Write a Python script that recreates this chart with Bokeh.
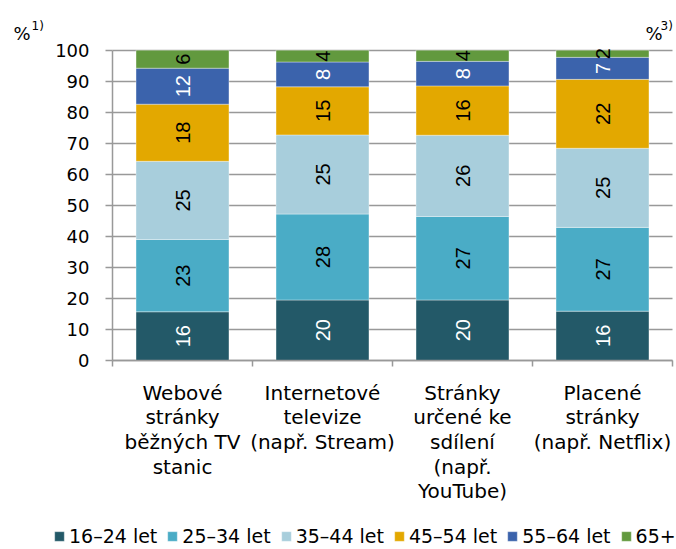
import numpy as np
from bokeh.plotting import figure
from bokeh.models import (ColumnDataSource, Range1d, FixedTicker, LinearAxis, Grid,
                          Legend, LegendItem, Label)
from bokeh.core.properties import value
from bokeh.embed import file_html
from bokeh.resources import INLINE

# ---- data -------------------------------------------------------------
categories = [
    "Webové\nstránky\nběžných TV\nstanic",
    "Internetové\ntelevize\n(např. Stream)",
    "Stránky\nurčené ke\nsdílení\n(např.\nYouTube)",
    "Placené\nstránky\n(např. Netflix)",
]
age_groups = ["16–24 let", "25–34 let", "35–44 let", "45–54 let", "55–64 let", "65+"]

# segment sizes (%)
v_16_24 = [15.7, 19.5, 19.5, 15.9]
v_25_34 = [23.3, 27.7, 26.9, 27.0]
v_35_44 = [25.2, 25.5, 26.2, 25.5]
v_45_54 = [18.4, 15.5, 15.9, 22.2]
v_55_64 = [11.6, 8.0, 7.9, 7.1]
v_65_plus = [5.8, 3.8, 3.6, 2.3]

# printed (rounded) labels
l_16_24 = [16, 20, 20, 16]
l_25_34 = [23, 28, 27, 27]
l_35_44 = [25, 25, 26, 25]
l_45_54 = [18, 15, 16, 22]
l_55_64 = [12, 8, 8, 7]
l_65_plus = [6, 4, 4, 2]

y_ticks = [0, 10, 20, 30, 40, 50, 60, 70, 80, 90, 100]

series_values = [v_16_24, v_25_34, v_35_44, v_45_54, v_55_64, v_65_plus]
series_labels = [l_16_24, l_25_34, l_35_44, l_45_54, l_55_64, l_65_plus]

# ---- styles / layout --------------------------------------------------
colors = ["#235968", "#4aacc6", "#a8cedc", "#e3a800", "#3b63ac", "#62993e"]
label_colors = ["white", "black", "black", "black", "white", "black"]
GRAY = "#999999"
FONT = "DejaVu Sans"
W, H = 676, 549
PX_X = 140.0            # px per category
X0 = 112.0              # px of x = 0
Y0, Y100 = 360.0, 49.7  # px of y = 0 and y = 100
PX_Y = (Y0 - Y100) / 100.0

n = len(categories)
xs = np.arange(n) + 0.5
bounds = list(np.arange(n + 1).astype(float))

# the frame covers the whole canvas so that nothing is clipped
x_range = Range1d(-X0 / PX_X, n + (W - X0 - n * PX_X) / PX_X)
y_range = Range1d(-(H - Y0) / PX_Y, 100 + Y100 / PX_Y)

p = figure(width=W, height=H, x_range=x_range, y_range=y_range,
           output_backend="svg", toolbar_location=None,
           x_axis_type=None, y_axis_type=None,
           min_border_left=0, min_border_right=0, min_border_top=0, min_border_bottom=0)
p.outline_line_color = None
p.background_fill_color = "white"
p.border_fill_color = "white"

# y axis
yaxis = LinearAxis(ticker=FixedTicker(ticks=y_ticks), fixed_location=0, bounds=(0, 100))
yaxis.axis_line_color = GRAY
yaxis.axis_line_width = 1.5
yaxis.major_tick_line_color = GRAY
yaxis.major_tick_line_width = 1.5
yaxis.major_tick_in = 0
yaxis.major_tick_out = 7
yaxis.minor_tick_line_color = None
yaxis.major_label_text_font = FONT
yaxis.major_label_text_font_size = "18px"
yaxis.major_label_text_color = "black"
yaxis.major_label_standoff = 16
p.add_layout(yaxis, "left")

# x axis: labels at centres, tick marks at category boundaries
xaxis = LinearAxis(ticker=FixedTicker(ticks=list(xs), minor_ticks=bounds),
                   fixed_location=0, bounds=(0, n))
xaxis.axis_line_color = GRAY
xaxis.axis_line_width = 1.5
xaxis.major_tick_line_color = None
xaxis.major_tick_in = 0
xaxis.major_tick_out = 6
xaxis.minor_tick_line_color = GRAY
xaxis.minor_tick_line_width = 1.5
xaxis.minor_tick_in = 0
xaxis.minor_tick_out = 6
xaxis.major_label_overrides = {float(x): c for x, c in zip(xs, categories)}
xaxis.major_label_text_font = FONT
xaxis.major_label_text_font_size = "20px"
xaxis.major_label_text_line_height = 1.03
xaxis.major_label_text_color = "black"
xaxis.major_label_standoff = 14
p.add_layout(xaxis, "below")

grid = Grid(dimension=1, ticker=yaxis.ticker, grid_line_color=GRAY, grid_line_width=1.5,
            bounds=(0, 100))
try:
    grid.cross_bounds = (0, n)
except Exception:
    pass
p.add_layout(grid)

# stacked bars
bottom = np.zeros(n)
items = []
for vals, labs, name, col, lcol in zip(series_values, series_labels, age_groups, colors, label_colors):
    vals = np.array(vals, dtype=float)
    top = bottom + vals
    src = ColumnDataSource(dict(x=xs, bottom=bottom, top=top, mid=bottom + vals / 2,
                                label=[str(v) for v in labs]))
    r = p.vbar(x="x", bottom="bottom", top="top", width=0.664, source=src,
               fill_color=col, line_color="white", line_width=0.6, line_alpha=0.6)
    p.text(x="x", y="mid", text="label", source=src, angle=np.pi / 2,
           text_align="center", text_baseline="middle",
           text_font=value("Liberation Sans"), text_font_size="20px", text_color=lcol)
    items.append(LegendItem(label=name, renderers=[r]))
    bottom = top

legend = Legend(items=items, orientation="horizontal", location=(53, 2),
                glyph_width=12, glyph_height=12, label_standoff=4, spacing=9,
                label_height=22, padding=0, margin=0,
                border_line_color=None, background_fill_alpha=0,
                label_text_font=FONT, label_text_font_size="19px", label_text_color="black")
p.add_layout(legend, "center")

# unit markers
p.add_layout(Label(x=(13 - X0) / PX_X, y=100 + 17 / PX_Y, text="%", text_font=FONT,
                   text_font_size="18px", text_baseline="alphabetic", text_color="black"))
p.add_layout(Label(x=(31 - X0) / PX_X, y=100 + 24 / PX_Y, text="1)", text_font=FONT,
                   text_font_size="12px", text_baseline="alphabetic", text_color="black"))
p.add_layout(Label(x=(645 - X0) / PX_X, y=100 + 17 / PX_Y, text="%", text_font=FONT,
                   text_font_size="18px", text_baseline="alphabetic", text_color="black"))
p.add_layout(Label(x=(660 - X0) / PX_X, y=100 + 24 / PX_Y, text="3)", text_font=FONT,
                   text_font_size="12px", text_baseline="alphabetic", text_color="black"))

open("out.html", "w").write(file_html(p, INLINE))
